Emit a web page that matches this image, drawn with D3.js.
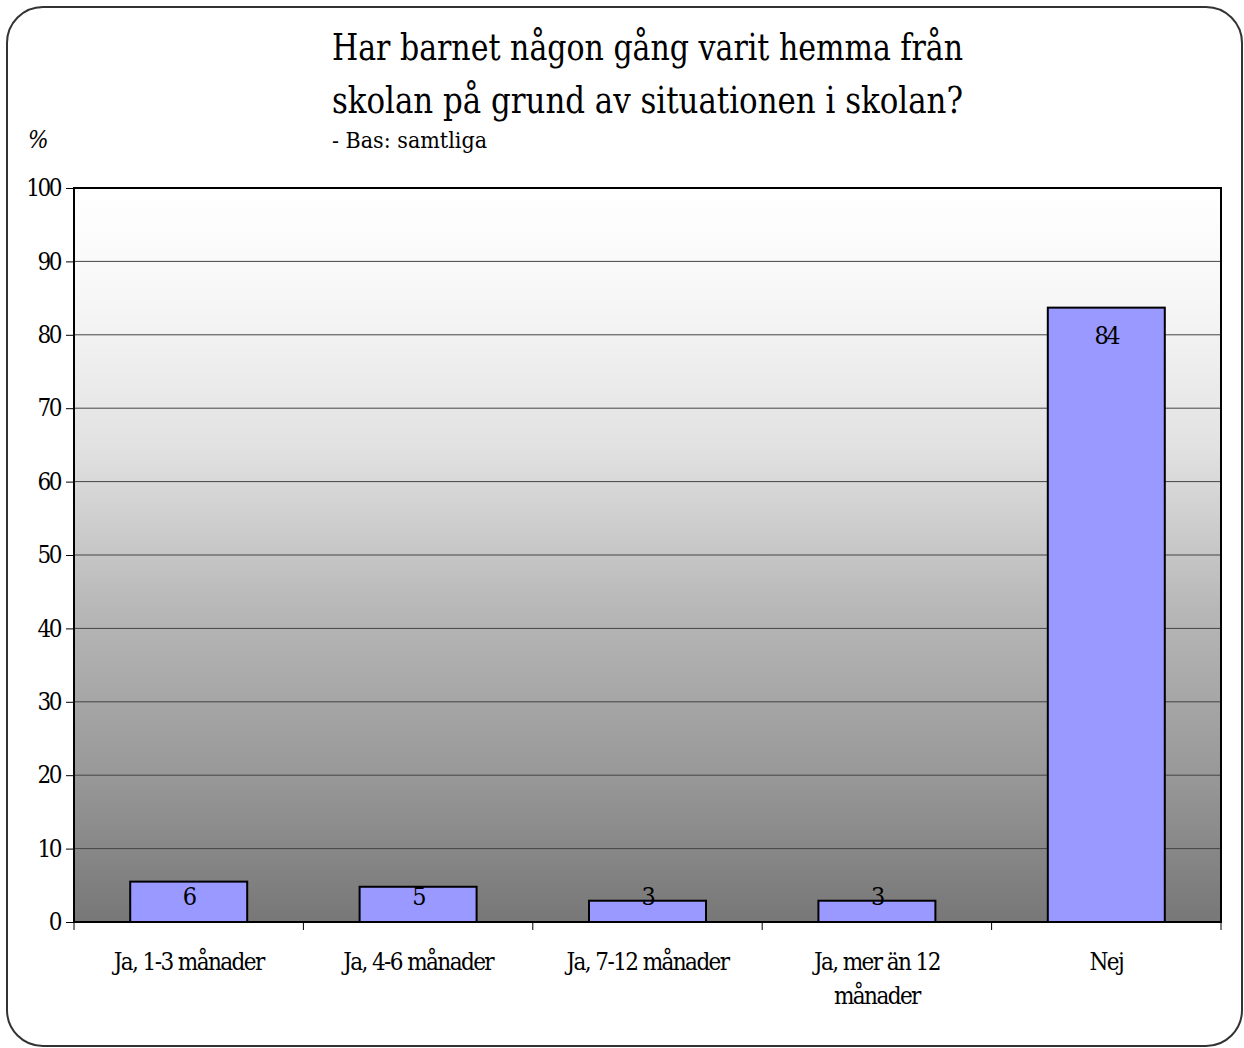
<!DOCTYPE html>
<html lang="sv">
<head>
<meta charset="utf-8">
<title>Hemma från skolan</title>
<script src="https://d3js.org/d3.v7.min.js"></script>
<style>
  body { margin: 0; background: #fff; }
  svg text { font-family: "DejaVu Serif Condensed", "DejaVu Serif", serif; font-stretch: condensed; fill: #000; }
</style>
</head>
<body>
<script>
var categories = ["Ja, 1-3 månader", "Ja, 4-6 månader", "Ja, 7-12 månader", "Ja, mer än 12 månader", "Nej"];
var values = [5.5, 4.8, 2.9, 2.9, 83.7];
var yTicks = [0, 10, 20, 30, 40, 50, 60, 70, 80, 90, 100];
var titleLines = ["Har barnet någon gång varit hemma från", "skolan på grund av situationen i skolan?"];
var subtitle = "- Bas: samtliga";

var W = 1244, H = 1048;
var margin = {top: 188, right: 23, bottom: 126, left: 74};
var width = W - margin.left - margin.right,
    height = H - margin.top - margin.bottom;

var svg = d3.select("body").append("svg")
    .attr("width", W)
    .attr("height", H);

// outer rounded frame
svg.append("rect")
    .attr("x", 7).attr("y", 7)
    .attr("width", W - 9).attr("height", H - 9)
    .attr("rx", 36).attr("ry", 36)
    .attr("fill", "#fff")
    .attr("stroke", "#333").attr("stroke-width", 2);

var grad = svg.append("defs").append("linearGradient")
    .attr("id", "bg").attr("x1", 0).attr("y1", 0).attr("x2", 0).attr("y2", 1);
[[0, "#ffffff"], [0.15, "#f7f7f7"], [0.35, "#e2e2e2"], [0.57, "#b8b8b8"], [0.8, "#989898"], [1, "#777777"]]
    .forEach(function(s) {
        grad.append("stop").attr("offset", s[0]).attr("stop-color", s[1]);
    });

var g = svg.append("g")
    .attr("transform", "translate(" + margin.left + "," + margin.top + ")");

var x = d3.scaleBand()
    .domain(categories)
    .range([0, width])
    .paddingInner(0.49)
    .paddingOuter(0.245);

var y = d3.scaleLinear()
    .domain([0, 100])
    .range([height, 0]);

g.append("rect")
    .attr("width", width).attr("height", height)
    .attr("fill", "url(#bg)");

// gridlines
g.selectAll(".grid")
    .data(yTicks.slice(1, -1))
    .enter().append("line")
    .attr("x1", 0).attr("x2", width)
    .attr("y1", function(d) { return y(d); })
    .attr("y2", function(d) { return y(d); })
    .attr("stroke", "#444").attr("stroke-width", 1);

// bars
g.selectAll(".bar")
    .data(values)
    .enter().append("rect")
    .attr("x", function(d, i) { return x(categories[i]); })
    .attr("y", function(d) { return y(d); })
    .attr("width", x.bandwidth())
    .attr("height", function(d) { return height - y(d); })
    .attr("fill", "#9999ff")
    .attr("stroke", "#000").attr("stroke-width", 2);

// value labels
g.selectAll(".lbl")
    .data(values)
    .enter().append("text")
    .attr("x", function(d, i) { return x(categories[i]) + x.bandwidth() / 2; })
    .attr("y", function(d) { return Math.min(y(d) + 27, height - 26) + 9; })
    .attr("text-anchor", "middle")
    .attr("font-size", 25)
    .attr("letter-spacing", -2.5)
    .text(function(d) { return Math.round(d); });

// plot border
g.append("rect")
    .attr("width", width).attr("height", height)
    .attr("fill", "none")
    .attr("stroke", "#000").attr("stroke-width", 2);

// y axis
var yAxis = d3.axisLeft(y).tickValues(yTicks).tickSize(8).tickPadding(6);
var ya = g.append("g").call(yAxis);
ya.select(".domain").remove();
ya.selectAll("line").attr("stroke", "#000");
ya.selectAll("text")
    .attr("font-size", 24)
    .attr("letter-spacing", -2.5)
    .attr("font-family", null)
    .attr("fill", "#000");

// x axis: ticks at band boundaries
var bounds = categories.map(function(c) { return x(c) - x.step() * x.paddingInner() / 2; }).concat([width]);
g.selectAll(".xtick")
    .data(bounds)
    .enter().append("line")
    .attr("x1", function(d) { return d; }).attr("x2", function(d) { return d; })
    .attr("y1", height).attr("y2", height + 8)
    .attr("stroke", "#000");

var xl = g.selectAll(".xl")
    .data(categories)
    .enter().append("text")
    .attr("x", function(d) { return x(d) + x.bandwidth() / 2; })
    .attr("y", height + 48)
    .attr("text-anchor", "middle")
    .attr("font-size", 24)
    .attr("letter-spacing", -1.6);
xl.each(function(d) {
    var parts = d === "Ja, mer än 12 månader" ? ["Ja, mer än 12", "månader"] : [d];
    var t = d3.select(this);
    parts.forEach(function(p, i) {
        t.append("tspan")
            .attr("x", x(d) + x.bandwidth() / 2)
            .attr("dy", i === 0 ? 0 : 34)
            .text(p);
    });
});

// title
svg.selectAll(".title")
    .data(titleLines)
    .enter().append("text")
    .attr("x", 332)
    .attr("y", function(d, i) { return 60 + i * 53; })
    .attr("font-size", 37)
    .attr("textLength", 631)
    .attr("lengthAdjust", "spacingAndGlyphs")
    .text(function(d) { return d; });

svg.append("text")
    .attr("x", 332).attr("y", 148)
    .attr("font-size", 23)
    .attr("textLength", 155)
    .attr("lengthAdjust", "spacingAndGlyphs")
    .text(subtitle);

svg.append("text")
    .attr("x", 28).attr("y", 148)
    .attr("font-size", 24)
    .attr("font-style", "italic")
    .text("%");
</script>
</body>
</html>
